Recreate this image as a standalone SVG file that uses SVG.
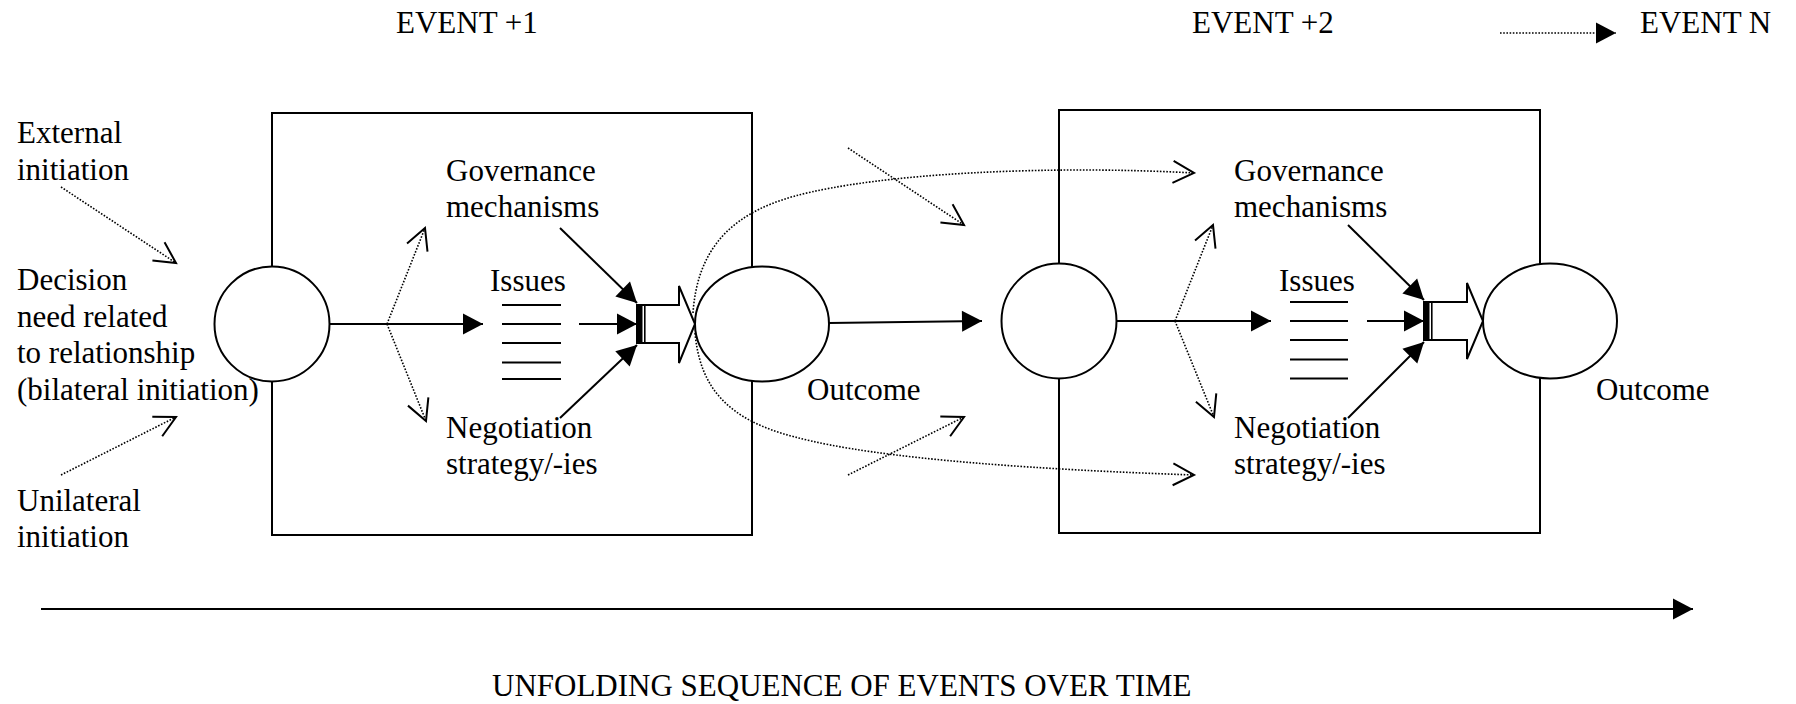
<svg xmlns="http://www.w3.org/2000/svg" width="1796" height="704" viewBox="0 0 1796 704" font-family="'Liberation Serif', 'DejaVu Serif', serif">
<defs>
<style>
text{font-family:'Liberation Serif','DejaVu Serif',serif;font-size:31px;fill:#000}
.box{fill:none;stroke:#000;stroke-width:2}
.node{fill:#fff;stroke:#000;stroke-width:2}
.solid{fill:none;stroke:#000;stroke-width:2}
.dot{fill:none;stroke:#000;stroke-width:1.6;stroke-dasharray:1.6 1.6}
.blk{fill:#000;stroke:none}
</style>
<marker id="tri" markerUnits="userSpaceOnUse" viewBox="-20 -11 21 22" refX="0" refY="0" markerWidth="21" markerHeight="22" orient="auto" overflow="visible">
<path d="M-20,-10.5 L0,0 L-20,10.5 Z" fill="#000" stroke="none"/>
</marker>
<marker id="open" markerUnits="userSpaceOnUse" viewBox="-22 -12 24 24" refX="0" refY="0" markerWidth="24" markerHeight="24" orient="auto" overflow="visible">
<path d="M-21,-11 L0,0 L-21,11" fill="none" stroke="#000" stroke-width="2" stroke-dasharray="none"/>
</marker>
</defs>
<rect width="1796" height="704" fill="#fff"/>

<g id="labels-top">
<text x="396" y="33">EVENT +1</text>
<text x="1192" y="33">EVENT +2</text>
<text x="1640" y="33">EVENT N</text>
</g>

<g id="initiation-labels">
<text x="17" y="143">External</text>
<text x="17" y="180">initiation</text>
<text x="17" y="290">Decision</text>
<text x="17" y="327">need related</text>
<text x="17" y="363">to relationship</text>
<text x="17" y="400">(bilateral initiation)</text>
<text x="17" y="511">Unilateral</text>
<text x="17" y="547">initiation</text>
</g>

<g id="event1">
<rect class="box" x="272" y="113" width="480" height="422"/>
<circle id="start1" class="node" cx="272" cy="324" r="57.5"/>
<ellipse id="outcome1" class="node" cx="762" cy="324" rx="67" ry="57.5"/>
<text x="446" y="181">Governance</text>
<text x="446" y="217">mechanisms</text>
<text x="490" y="291">Issues</text>
<g id="issues1" class="solid">
<line x1="502" y1="305" x2="561" y2="305"/>
<line x1="502" y1="324" x2="561" y2="324"/>
<line x1="502" y1="343" x2="561" y2="343"/>
<line x1="502" y1="362.5" x2="561" y2="362.5"/>
<line x1="502" y1="379" x2="561" y2="379"/>
</g>
<text x="446" y="438">Negotiation</text>
<text x="446" y="474">strategy/-ies</text>
<text x="807" y="400">Outcome</text>
<g id="gate1">
<path class="solid" d="M637,305 L679,305 L679,286 L695,324 L679,363 L679,343 L637,343 Z" fill="#fff"/>
<rect class="blk" x="637" y="304" width="5.5" height="40"/>
<line x1="644.8" y1="305" x2="644.8" y2="343" stroke="#000" stroke-width="1.6"/>
</g>
</g>

<g id="event2">
<rect class="box" x="1059" y="110" width="481" height="423"/>
<circle id="start2" class="node" cx="1059" cy="321" r="57.5"/>
<ellipse id="outcome2" class="node" cx="1550" cy="321" rx="67" ry="57.5"/>
<text x="1234" y="181">Governance</text>
<text x="1234" y="217">mechanisms</text>
<text x="1279" y="291">Issues</text>
<g id="issues2" class="solid">
<line x1="1290" y1="302" x2="1348" y2="302"/>
<line x1="1290" y1="321" x2="1348" y2="321"/>
<line x1="1290" y1="340" x2="1348" y2="340"/>
<line x1="1290" y1="359.5" x2="1348" y2="359.5"/>
<line x1="1290" y1="378.5" x2="1348" y2="378.5"/>
</g>
<text x="1234" y="438">Negotiation</text>
<text x="1234" y="474">strategy/-ies</text>
<text x="1596" y="400">Outcome</text>
<g id="gate2">
<path class="solid" d="M1424,302 L1467,302 L1467,283 L1483,321 L1467,359 L1467,340 L1424,340 Z" fill="#fff"/>
<rect class="blk" x="1424" y="301" width="5.5" height="40"/>
<line x1="1431.8" y1="302" x2="1431.8" y2="340" stroke="#000" stroke-width="1.6"/>
</g>
</g>

<g id="connectors">
<line class="dot" x1="61" y1="187" x2="176" y2="263" marker-end="url(#open)"/>
<line class="dot" x1="61" y1="475" x2="176" y2="417" marker-end="url(#open)"/>
<line class="solid" x1="329.5" y1="324" x2="483" y2="324" marker-end="url(#tri)"/>
<line class="dot" x1="387" y1="324" x2="425" y2="228" marker-end="url(#open)"/>
<line class="dot" x1="387" y1="324" x2="426" y2="421" marker-end="url(#open)"/>
<line class="solid" x1="579" y1="324" x2="637" y2="324" marker-end="url(#tri)"/>
<line class="solid" x1="560" y1="228" x2="637" y2="303" marker-end="url(#tri)"/>
<line class="solid" x1="560" y1="418" x2="637" y2="345" marker-end="url(#tri)"/>
<line class="solid" x1="829" y1="323" x2="982" y2="321" marker-end="url(#tri)"/>
<path class="dot" d="M693,313 C697,255 725,215 795,196 C880,173 1050,165 1194,173" marker-end="url(#open)"/>
<path class="dot" d="M695,333 C700,388 728,420 795,437 C880,460 1050,470 1194,475" marker-end="url(#open)"/>
<line class="dot" x1="848" y1="148" x2="964" y2="225" marker-end="url(#open)"/>
<line class="dot" x1="848" y1="475" x2="964" y2="417" marker-end="url(#open)"/>
<line class="solid" x1="1116.5" y1="321" x2="1271" y2="321" marker-end="url(#tri)"/>
<line class="dot" x1="1175" y1="321" x2="1213" y2="225" marker-end="url(#open)"/>
<line class="dot" x1="1175" y1="321" x2="1214" y2="417" marker-end="url(#open)"/>
<line class="solid" x1="1367" y1="321" x2="1424" y2="321" marker-end="url(#tri)"/>
<line class="solid" x1="1348" y1="225" x2="1424" y2="300" marker-end="url(#tri)"/>
<line class="solid" x1="1348" y1="418" x2="1424" y2="342" marker-end="url(#tri)"/>
<line class="dot" x1="1500" y1="33" x2="1616" y2="33" marker-end="url(#tri)"/>
<line class="solid" x1="41" y1="609" x2="1693" y2="609" marker-end="url(#tri)"/>
</g>

<g id="time-label">
<text x="492" y="696">UNFOLDING SEQUENCE OF EVENTS OVER TIME</text>
</g>
</svg>
